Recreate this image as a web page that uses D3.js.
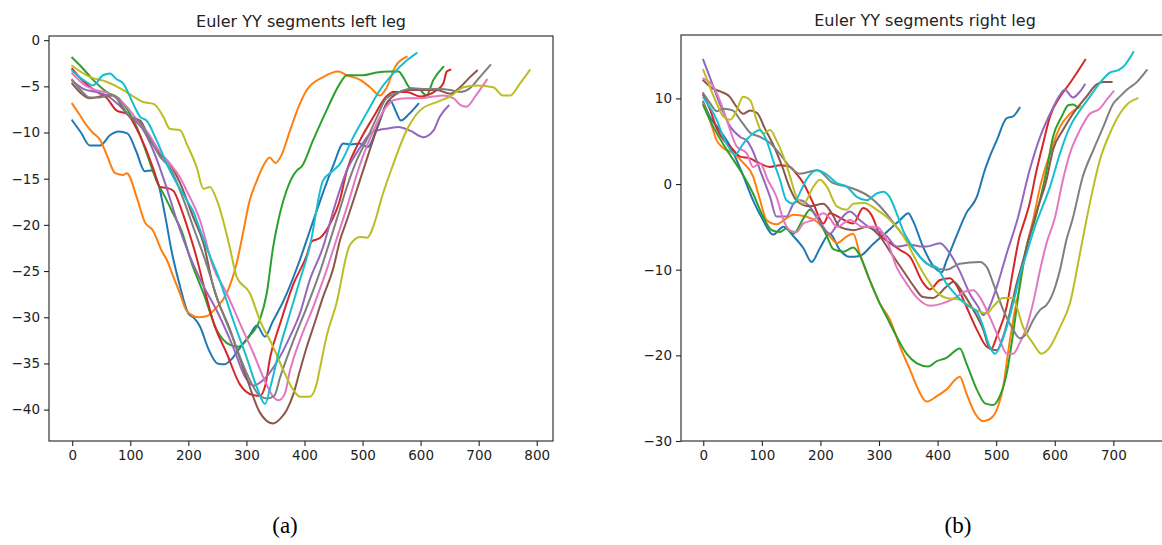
<!DOCTYPE html>
<html>
<head>
<meta charset="utf-8">
<script src="https://cdn.jsdelivr.net/npm/d3@7"></script>
<style>
body { margin: 0; background: #fff; }
svg { display: block; }
</style>
</head>
<body>
<svg id="chart" width="1162" height="545"></svg>
<script>
// matplotlib tab10 cycle
var colors = ["#1f77b4", "#ff7f0e", "#2ca02c", "#d62728", "#9467bd", "#8c564b", "#e377c2", "#7f7f7f", "#bcbd22", "#17becf"];

var leftTitle = "Euler YY segments left leg";
var rightTitle = "Euler YY segments right leg";
var leftXTicks = [0, 100, 200, 300, 400, 500, 600, 700, 800];
var leftYTicks = [0, -5, -10, -15, -20, -25, -30, -35, -40];
var rightXTicks = [0, 100, 200, 300, 400, 500, 600, 700];
var rightYTicks = [10, 0, -10, -20, -30];

// left leg segments, [frame, angle]
var leftBlue = [[0,-8.7],[15,-10],[30,-11.4],[48,-11.4],[65,-10.3],[80,-9.9],[95,-10.1],[110,-12],[125,-14.2],[137,-14.1],[148,-15.5],[160,-19],[171,-22.8],[185,-26.5],[200,-29.6],[210,-30.1],[220,-31],[235,-33.5],[250,-35],[262,-35.1],[275,-34.5],[290,-33.2],[305,-32],[318,-30.9],[332,-32.1],[345,-30.5],[364,-28.2],[392,-23.8],[410,-20.5],[432,-16.5],[450,-13.5],[467,-11.2],[480,-11.3],[495,-11.2],[509,-11.6],[525,-9.5],[547,-6.5],[558,-7.8],[566,-8.7],[580,-8],[596,-6.9]];
var leftOrange = [[0,-6.9],[12,-8],[22,-9],[35,-10],[48,-10.8],[60,-12.5],[74,-14.4],[88,-14.6],[94,-14.4],[111,-17],[125,-19.7],[139,-20.6],[154,-22.8],[163,-23.8],[174,-25.6],[186,-27.5],[197,-29.3],[217,-30],[231,-29.9],[246,-29.1],[266,-27.4],[283,-24.2],[295,-20.6],[305,-17.5],[318,-15.2],[330,-13.5],[340,-12.7],[350,-13.3],[360,-12.5],[375,-9.8],[390,-7.2],[404,-5.4],[432,-4],[458,-3.4],[473,-3.8],[496,-4.3],[513,-5.1],[530,-6],[541,-5.2],[556,-2.9],[576,-1.8]];
var leftGreen = [[0,-1.9],[16,-2.9],[36,-4.3],[59,-5.6],[80,-6.3],[95,-7.5],[111,-9.4],[128,-12.2],[145,-15.2],[160,-17],[174,-18.8],[188,-20.6],[206,-24.2],[226,-27.4],[249,-31.4],[272,-33],[286,-33.2],[306,-32],[323,-30.3],[335,-27.4],[346,-22.4],[355,-19.5],[369,-16.3],[387,-14.1],[395,-13.7],[415,-10.8],[438,-7.6],[461,-4.7],[473,-3.8],[501,-3.8],[524,-3.5],[547,-3.4],[562,-3.4],[570,-4],[582,-5.2],[599,-5.4],[610,-6],[622,-4.3],[639,-2.9]];
var leftRed = [[0,-3.1],[20,-4.5],[40,-5.5],[60,-6.3],[76,-7.6],[95,-8],[110,-9.5],[125,-11.5],[140,-14],[151,-15.9],[163,-16],[174,-16.3],[185,-17.8],[197,-20],[214,-23.5],[230,-27.5],[243,-30.5],[266,-33.9],[289,-37.3],[310,-38.4],[323,-38.5],[332,-37.5],[341,-34.3],[358,-30.7],[381,-26.4],[404,-23.3],[412,-21.8],[427,-21.4],[444,-19.9],[461,-17.3],[473,-14.1],[496,-10.8],[519,-8.3],[541,-6.1],[553,-5.6],[576,-5.6],[599,-6.1],[610,-6],[628,-5.4],[639,-4.7],[645,-3.4],[651,-3.2]];
var leftPurple = [[0,-4.4],[20,-5.3],[40,-5.6],[60,-6],[80,-7],[100,-8.3],[120,-9.5],[140,-12],[160,-15.5],[180,-19.5],[200,-23],[225,-26.5],[249,-29.3],[277,-33.2],[298,-36.5],[312,-37.4],[329,-36.8],[352,-34.9],[375,-32.1],[392,-29.6],[409,-26],[432,-22.4],[450,-18.4],[473,-14.1],[496,-11.6],[513,-10.1],[530,-9.7],[541,-9.6],[562,-9.4],[582,-9.8],[605,-10.5],[622,-9.8],[633,-8.3],[648,-7.1]];
var leftBrown = [[0,-4.7],[16,-5.8],[30,-6.3],[48,-6.1],[71,-6],[88,-7.4],[99,-8.3],[117,-8.7],[134,-10.8],[151,-12.3],[168,-13.4],[186,-15.5],[208,-19.1],[226,-22],[243,-26.7],[272,-31.4],[300,-36.5],[323,-40.3],[346,-41.5],[358,-41],[369,-40.1],[381,-38.3],[392,-35.8],[404,-33.2],[415,-31.1],[432,-27.8],[450,-24.6],[461,-21.7],[473,-19.5],[501,-14.1],[524,-9.75],[541,-6.9],[559,-5.8],[576,-5.4],[599,-5.4],[628,-5.4],[651,-5.8],[668,-5.1],[685,-4],[697,-3.3]];
var leftPink = [[0,-3.6],[20,-4.8],[40,-5.4],[60,-5.7],[80,-6.4],[94,-7.2],[110,-8.5],[130,-10],[150,-12],[170,-13.5],[185,-14.8],[197,-16.3],[220,-19.5],[243,-24.6],[266,-27.4],[289,-30.7],[312,-33.9],[329,-36.5],[346,-38.6],[355,-39],[366,-38.3],[375,-35.8],[392,-32.5],[415,-28.9],[438,-24.9],[455,-21.6],[473,-18.1],[496,-13.4],[519,-9.75],[541,-7.2],[553,-6.5],[576,-6.3],[599,-6.3],[622,-6.1],[639,-6],[657,-6.3],[668,-7],[679,-7.2],[695,-6],[714,-4.3]];
var leftGray = [[0,-4.3],[16,-5.5],[30,-6.2],[48,-6.2],[65,-5.9],[80,-6.5],[95,-8],[115,-8.8],[135,-10.8],[150,-12.5],[170,-14],[190,-17],[210,-20.5],[230,-24],[250,-28],[275,-32],[300,-36],[320,-38.3],[335,-38.8],[348,-38.5],[358,-36.5],[381,-32.5],[404,-28.9],[427,-25],[444,-21.7],[460,-18.5],[473,-15.9],[490,-13],[507,-10.8],[525,-8.3],[541,-6.3],[564,-5.6],[587,-5.2],[610,-5.3],[633,-5.3],[651,-5.4],[668,-5.6],[685,-5.2],[702,-4],[720,-2.7]];
var leftOlive = [[0,-2.8],[31,-4],[59,-4.5],[88,-5.4],[105,-6.1],[122,-6.7],[140,-6.9],[157,-8.3],[168,-9.6],[186,-9.75],[197,-11.2],[214,-13.7],[226,-16.1],[237,-15.9],[249,-17.3],[272,-22.6],[283,-25.6],[306,-27.4],[323,-30.3],[346,-33.2],[364,-35.8],[381,-37.9],[392,-38.6],[409,-38.6],[421,-37.2],[427,-35.4],[438,-32.1],[455,-28.5],[478,-22.2],[496,-21.3],[507,-21.4],[524,-19.1],[530,-17.7],[553,-13.4],[576,-9.75],[599,-7.6],[628,-6.7],[651,-6.1],[674,-5.1],[697,-4.9],[725,-5.1],[742,-6],[754,-6],[771,-4.7],[788,-3.25]];
var leftCyan = [[0,-3.3],[19,-4.3],[36,-4.9],[53,-3.8],[65,-3.6],[76,-4.2],[88,-4.7],[105,-6.9],[117,-8.3],[128,-8.7],[145,-10.8],[168,-14.1],[197,-17.3],[208,-18.5],[220,-20.5],[231,-22.4],[254,-26],[277,-30.3],[300,-34.3],[318,-37.6],[332,-39.4],[341,-37.6],[358,-33.2],[375,-29.6],[392,-26],[409,-22.4],[432,-15.2],[450,-14.1],[461,-13.4],[484,-10.5],[507,-7.9],[530,-5.4],[553,-3.6],[576,-2.2],[593,-1.4]];

// right leg segments, [frame, angle]
var rightBlue = [[0,9.6],[11,7.9],[28,6.3],[46,4.4],[65,1.5],[85,-1.9],[102,-4.2],[119,-5.9],[137,-5],[154,-6.1],[171,-7.5],[185,-9.1],[199,-7.5],[216,-5.8],[233,-7.7],[250,-8.5],[267,-8.4],[290,-7],[310,-5.8],[336,-4.2],[350,-3.4],[358,-4.3],[375,-7.3],[392,-9.5],[407,-10.3],[415,-9],[432,-6.1],[449,-3.4],[467,-1.5],[480,1.5],[489,3.2],[501,5.1],[518,7.7],[529,7.9],[540,8.9]];
var rightOrange = [[0,9.4],[11,7.5],[23,5.1],[34,4.2],[51,3.6],[68,2.5],[85,0.9],[97,-1.9],[108,-4.2],[125,-4.7],[142,-4],[154,-3.6],[175,-3.8],[194,-4.4],[216,-6.1],[228,-6.9],[245,-6.1],[256,-5.8],[267,-8.1],[284,-11.2],[301,-13.9],[319,-15.9],[336,-19],[353,-21.7],[367,-24],[381,-25.4],[398,-24.8],[415,-24],[438,-22.5],[449,-24.4],[464,-26.8],[478,-27.7],[492,-27.3],[503,-26],[512,-23.7],[520,-19.8],[529,-15.9],[540,-12],[552,-7.3],[563,-4.2],[575,-0.3],[592,3.6],[609,6.7],[626,8.2],[643,9.1]];
var rightGreen = [[0,9.2],[17,6.7],[40,4],[63,1.6],[85,-1.1],[102,-3.8],[117,-5.4],[131,-5.6],[142,-5.2],[154,-5.8],[171,-4],[182,-3],[195,-4],[211,-6.1],[222,-7.6],[239,-7.9],[256,-7.4],[267,-8.3],[284,-11.2],[301,-13.9],[313,-15.5],[330,-17.8],[347,-19.8],[364,-20.9],[384,-21.3],[398,-20.7],[415,-20.3],[438,-19.2],[449,-20.9],[467,-24],[481,-25.6],[495,-25.8],[506,-24.8],[518,-22.1],[529,-17.4],[540,-12],[552,-7.3],[566,-4.2],[586,1.6],[597,5.5],[612,7.9],[623,9.2],[631,9.3],[640,8.9]];
var rightRed = [[0,10.4],[11,8.8],[23,6.5],[34,5.2],[46,4.4],[63,3.2],[80,3],[91,2.6],[114,2],[131,2.2],[148,2],[159,1.2],[171,0.1],[188,-2.3],[205,-4.6],[216,-3.4],[235,-4],[256,-4.6],[273,-2.8],[287,-3.6],[301,-5.8],[319,-6.9],[336,-7.7],[353,-8.5],[375,-11.5],[387,-12.3],[404,-11.2],[421,-11],[432,-11.8],[449,-14.3],[467,-17],[484,-19],[492,-19.2],[501,-17.8],[518,-14.3],[529,-10],[540,-6.1],[546,-4.8],[557,-2.3],[569,1.6],[580,4.7],[592,7.9],[609,10.2],[626,11.8],[637,12.9],[652,14.5]];
var rightPurple = [[0,14.5],[11,12.5],[28,9.4],[46,6.7],[63,5.5],[75,5],[85,3.8],[97,1.6],[114,-1.5],[125,-3.8],[131,-3.8],[142,-3.8],[154,-2.3],[165,-1.9],[180,-2.5],[200,-4.5],[216,-5.8],[233,-4.2],[250,-3.2],[267,-4.2],[282,-5],[296,-5.4],[313,-6.1],[330,-7.3],[353,-7.1],[375,-7.3],[381,-7.3],[404,-6.9],[421,-8.1],[438,-10.2],[455,-12.8],[469,-14.3],[478,-15.3],[486,-14.7],[501,-12],[518,-8.1],[536,-4.2],[557,1.6],[575,5.5],[592,8.2],[609,10.4],[617,11],[631,10.1],[643,10.8],[651,11.6]];
var rightBrown = [[0,12.1],[15,11.2],[30,10.8],[45,10.2],[57,9],[68,8.2],[80,8.6],[92,8.3],[105,6.5],[120,4.5],[135,2],[148,-0.5],[160,-2],[182,-2.6],[205,-2.3],[220,-3.5],[233,-5],[256,-5.4],[279,-5],[300,-6],[320,-8],[340,-10],[360,-12],[375,-13.2],[392,-13.3],[415,-12],[427,-11.4],[444,-12.8],[461,-14.7],[478,-17],[489,-19.2],[501,-19.4],[512,-17.8],[523,-15.1],[535,-11.6],[546,-8.9],[557,-6.1],[570,-3],[586,0.5],[597,4],[614,6.3],[631,8.2],[654,10.2],[671,11.6],[683,11.9],[697,11.9]];
var rightPink = [[0,12.3],[17,11.4],[28,9.8],[40,7.5],[57,4.4],[74,3.6],[85,2],[97,2.4],[110,0.5],[125,-1.5],[137,-4.2],[148,-5.4],[159,-5.6],[171,-4.6],[188,-4.2],[205,-3.4],[216,-4],[228,-5],[250,-4.2],[273,-5],[296,-5],[313,-6.5],[330,-9.7],[347,-11.6],[364,-13.2],[387,-14.2],[410,-13.9],[432,-13.2],[444,-12.6],[461,-12.4],[472,-13.2],[489,-15.5],[506,-18.2],[518,-19.8],[529,-19.8],[540,-18.6],[552,-16.7],[563,-13.9],[575,-10],[586,-6.9],[600,-4],[614,0.5],[626,3.6],[643,6.3],[660,8.2],[677,8.8],[688,9.8],[700,10.8]];
var rightGray = [[0,10.6],[11,9.5],[23,8.5],[35,8.8],[50,8.6],[63,7.5],[80,6],[97,5.5],[114,4.8],[131,3.5],[148,2],[165,1.2],[194,1.6],[222,0.1],[245,-0.3],[262,-0.7],[284,-1.5],[307,-3],[330,-5],[347,-6.5],[370,-8.5],[392,-9.7],[415,-10],[438,-9.3],[472,-9.1],[484,-9.7],[495,-11.6],[512,-14.7],[529,-17],[540,-18],[552,-17.4],[563,-15.9],[575,-14.7],[586,-14.1],[594,-13.2],[609,-10],[620,-6.5],[630,-4.2],[648,0.9],[666,4],[683,6.7],[700,9.4],[711,10.2],[723,11],[740,11.9],[757,13.3]];
var rightOlive = [[0,13.3],[11,11.4],[23,9.4],[34,7.9],[46,7.5],[57,8.6],[68,10.2],[80,9.8],[91,7.5],[102,5.9],[114,6.3],[125,5.1],[137,3.2],[148,0.9],[159,-1.5],[171,-2.3],[188,-0.3],[199,0.5],[211,-0.3],[228,-2.6],[245,-3],[256,-2.3],[275,-2.2],[296,-3],[319,-4.2],[341,-6],[364,-9],[381,-11],[398,-12.6],[415,-13.3],[438,-13.5],[455,-14.3],[472,-14.9],[484,-15.1],[495,-14.3],[512,-13.3],[529,-13.3],[535,-14.3],[546,-16.7],[563,-18.6],[577,-19.8],[592,-19],[609,-16.7],[626,-13.9],[643,-8.1],[654,-4.2],[666,-0.3],[677,2.8],[694,5.9],[711,8.2],[725,9.4],[741,10]];
var rightCyan = [[0,10.1],[11,9],[23,7.5],[34,5.5],[46,4],[54,3.4],[68,4.7],[85,5.9],[97,6.3],[108,5.1],[119,2.8],[131,0.5],[142,-1.9],[154,-2.3],[165,-1],[176,0.5],[194,1.6],[211,1.1],[228,0.1],[245,-0.3],[262,-1.5],[279,-1.9],[296,-1.1],[307,-0.9],[318,-1.5],[330,-3.4],[341,-5.4],[353,-6.9],[370,-8.5],[381,-9.3],[398,-9.7],[415,-11.6],[432,-13],[449,-14.1],[467,-14.9],[478,-16.7],[489,-19],[498,-19.8],[506,-19],[518,-16.7],[529,-13.9],[540,-10.8],[552,-8.1],[566,-5],[580,-2.5],[592,-0.3],[609,3.6],[626,6.7],[643,8.6],[660,10.2],[677,11.8],[694,13],[708,13.3],[717,13.7],[734,15.4]];

var leftSeries = [leftBlue, leftOrange, leftGreen, leftRed, leftPurple, leftBrown, leftPink, leftGray, leftOlive, leftCyan];
var rightSeries = [rightBlue, rightOrange, rightGreen, rightRed, rightPurple, rightBrown, rightPink, rightGray, rightOlive, rightCyan];

var svg = d3.select("#chart");

function drawPanel(opts) {
    var x, y, g, line;
    x = d3.scaleLinear().domain(opts.xDomain).range([opts.left, opts.right]);
    y = d3.scaleLinear().domain(opts.yDomain).range([opts.bottom, opts.top]);
    g = svg.append("g");

    line = d3.line()
        .x(function (d) { return x(d[0]); })
        .y(function (d) { return y(d[1]); })
        .curve(d3.curveMonotoneX);

    g.selectAll("path.series").data(opts.series).enter().append("path")
        .attr("class", "series")
        .attr("fill", "none")
        .attr("stroke", function (d, i) { return colors[i % colors.length]; })
        .attr("stroke-width", 2)
        .attr("stroke-linejoin", "round")
        .attr("stroke-linecap", "square")
        .attr("d", line);

    // frame (spines)
    g.append("rect")
        .attr("x", opts.left)
        .attr("y", opts.top)
        .attr("width", opts.right - opts.left)
        .attr("height", opts.bottom - opts.top)
        .attr("fill", "none")
        .attr("stroke", "#222")
        .attr("stroke-width", 1.1);

    var xAxis = g.append("g")
        .attr("transform", "translate(0," + opts.bottom + ")")
        .call(d3.axisBottom(x).tickValues(opts.xTicks).tickSize(5).tickPadding(4));
    var yAxis = g.append("g")
        .attr("transform", "translate(" + opts.left + ",0)")
        .call(d3.axisLeft(y).tickValues(opts.yTicks).tickSize(5).tickPadding(4));

    [xAxis, yAxis].forEach(function (a) {
        a.select(".domain").remove();
        a.selectAll(".tick line").attr("stroke", "#222").attr("stroke-width", 1.1);
        a.selectAll(".tick text")
            .attr("fill", "#222")
            .attr("font-family", "DejaVu Sans")
            .attr("font-size", 13.5);
    });

    g.append("text")
        .attr("x", (opts.left + opts.right) / 2)
        .attr("y", opts.top - 9)
        .attr("text-anchor", "middle")
        .attr("font-family", "DejaVu Sans")
        .attr("font-size", 16)
        .attr("fill", "#222")
        .text(opts.title);

    svg.append("text")
        .attr("x", opts.labelX)
        .attr("y", 533)
        .attr("text-anchor", "middle")
        .attr("font-family", "Liberation Serif")
        .attr("font-size", 23)
        .attr("fill", "#000")
        .text(opts.label);
}

drawPanel({
    series: leftSeries, title: leftTitle, label: "(a)", labelX: 285,
    xDomain: [-40, 828], yDomain: [-43.4, 0.45],
    left: 49, right: 553, top: 36, bottom: 441,
    xTicks: leftXTicks, yTicks: leftYTicks
});
drawPanel({
    series: rightSeries, title: rightTitle, label: "(b)", labelX: 958,
    xDomain: [-38, 795], yDomain: [-30, 17.4],
    left: 681, right: 1169, top: 35, bottom: 441,
    xTicks: rightXTicks, yTicks: rightYTicks
});
</script>
</body>
</html>
